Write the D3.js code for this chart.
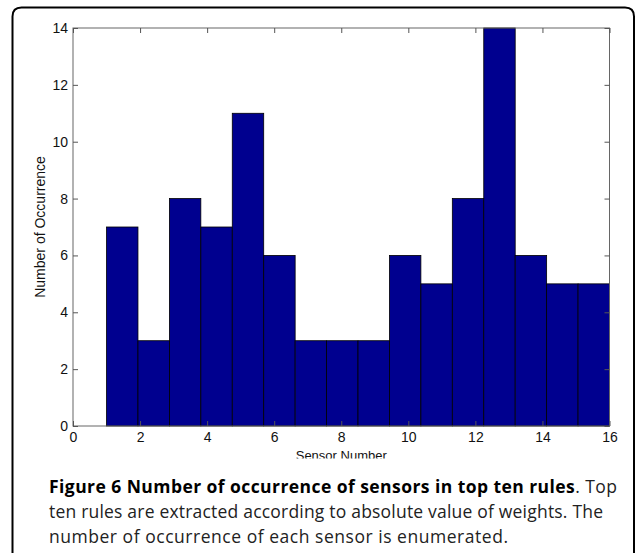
<!DOCTYPE html>
<html><head><meta charset="utf-8">
<script src="https://cdn.jsdelivr.net/npm/d3@7"></script>
<style>
html,body{margin:0;padding:0;background:#fff;}
svg{display:block;}
</style></head>
<body>
<script>
// Data
const sensors = [1,2,3,4,5,6,7,8,9,10,11,12,13,14,15,16];
const counts  = [7,3,8,7,11,6,3,3,3,6,5,8,14,6,5,5];
const xTicks = [0,2,4,6,8,10,12,14,16];
const yTicks = [0,2,4,6,8,10,12,14];
const xTitle = "Sensor Number";
const yTitle = "Number of Occurrence";
const captionBold = "Figure 6 Number of occurrence of sensors in top ten rules";
const captionLines = [". Top", "ten rules are extracted according to absolute value of weights. The", "number of occurrence of each sensor is enumerated."];

const W = 635, H = 553;
const svg = d3.select("body").append("svg").attr("width", W).attr("height", H);

// frame
const fx0 = 12.5, fy0 = 7.5, fx1 = 634, r = 9;
svg.append("path")
  .attr("d", `M${fx0},${H+5} L${fx0},${fy0+r} Q${fx0},${fy0} ${fx0+r},${fy0} L${fx1-r},${fy0} Q${fx1},${fy0} ${fx1},${fy0+r} L${fx1},${H+5}`)
  .attr("fill","none").attr("stroke","#000").attr("stroke-width",2);

const m = {l:73, t:28, r:609.5, b:426};
const x = d3.scaleLinear().domain([0,16]).range([m.l, m.r]);
const y = d3.scaleLinear().domain([0,14]).range([m.b, m.t]);

// histogram bins (16 equal bins between min and max sensor number)
const lo = d3.min(sensors), hi = d3.max(sensors);
const bw = (hi - lo) / sensors.length;
const bars = sensors.map((s,i) => ({x0: lo + i*bw, x1: lo + (i+1)*bw, v: counts[i]}));

svg.append("g").selectAll("rect").data(bars).join("rect")
  .attr("x", d => x(d.x0)).attr("width", d => x(d.x1)-x(d.x0))
  .attr("y", d => y(d.v)).attr("height", d => y(0)-y(d.v))
  .attr("fill","#00008F").attr("stroke","#000").attr("stroke-width",0.8);

// axes box
svg.append("rect").attr("x",m.l).attr("y",m.t).attr("width",m.r-m.l).attr("height",m.b-m.t)
  .attr("fill","none").attr("stroke","#666").attr("stroke-width",1);

const tl = 5;
const gB = svg.append("g").attr("transform",`translate(0,${m.b})`)
  .call(d3.axisBottom(x).tickValues(xTicks).tickSizeInner(-tl).tickSizeOuter(0).tickPadding(6));
const gT = svg.append("g").attr("transform",`translate(0,${m.t})`)
  .call(d3.axisTop(x).tickValues(xTicks).tickSizeInner(-tl).tickSizeOuter(0).tickFormat(""));
const gL = svg.append("g").attr("transform",`translate(${m.l},0)`)
  .call(d3.axisLeft(y).tickValues(yTicks).tickSizeInner(-tl).tickSizeOuter(0).tickPadding(5));
const gR = svg.append("g").attr("transform",`translate(${m.r},0)`)
  .call(d3.axisRight(y).tickValues(yTicks).tickSizeInner(-tl).tickSizeOuter(0).tickFormat(""));
[gB,gT,gL,gR].forEach(g => {
  g.attr("font-size",null).attr("font-family",null);
  g.select(".domain").remove();
  g.selectAll("line").attr("stroke","#555");
  g.selectAll("text").style("font-family","'Liberation Sans', Arial, sans-serif").style("font-size","14px").attr("fill","#111");
});

// titles
svg.append("clipPath").attr("id","xclip").append("rect").attr("x",0).attr("y",0).attr("width",W).attr("height",458.5);
svg.append("text").attr("x",(m.l+m.r)/2).attr("y",460).attr("text-anchor","middle")
  .attr("clip-path","url(#xclip)")
  .style("font-family","'Liberation Sans', Arial, sans-serif").style("font-size","13px").attr("fill","#111").text(xTitle);
svg.append("text").attr("transform",`translate(45,${(m.t+m.b)/2}) rotate(-90)`).attr("text-anchor","middle")
  .style("font-family","'Liberation Sans', Arial, sans-serif").style("font-size","14px").attr("fill","#111").text(yTitle);

// caption
const cf = "'Open Sans', 'Noto Sans', sans-serif";
const lineW = [568, 554, 459];
const t1 = svg.append("text").attr("x",49).attr("y",493).attr("font-family",cf).attr("font-size",17.5).attr("fill","#222")
  .attr("textLength",lineW[0]).attr("lengthAdjust","spacing");
t1.append("tspan").attr("font-weight","bold").attr("fill","#000").text(captionBold);
t1.append("tspan").text(captionLines[0]);
svg.append("text").attr("x",49).attr("y",518).attr("font-family",cf).attr("font-size",17.5).attr("fill","#222")
  .attr("textLength",lineW[1]).attr("lengthAdjust","spacing").text(captionLines[1]);
svg.append("text").attr("x",49).attr("y",543).attr("font-family",cf).attr("font-size",17.5).attr("fill","#222")
  .attr("textLength",lineW[2]).attr("lengthAdjust","spacing").text(captionLines[2]);
</script>
</body></html>
